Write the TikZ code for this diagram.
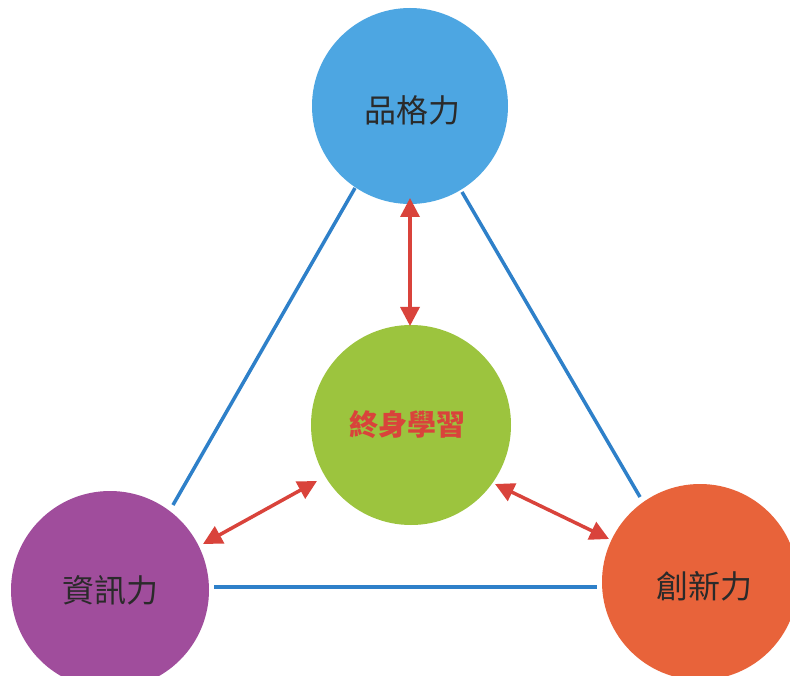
\documentclass[tikz,border=0pt]{standalone}
\usepackage{fontspec}
\newfontfamily\cjk{Noto Sans CJK TC}
\usetikzlibrary{arrows.meta}
\definecolor{cblue}{HTML}{4DA6E2}
\definecolor{cgreen}{HTML}{9CC43E}
\definecolor{cpurple}{HTML}{A04D9C}
\definecolor{corange}{HTML}{E8633A}
\definecolor{lblue}{HTML}{2E80C9}
\definecolor{ared}{HTML}{D9433B}
\definecolor{tgray}{HTML}{2A2A2A}
\tikzset{
  ball/.style={circle, minimum size=196pt, inner sep=0pt, draw=none},
  lbl/.style={font=\cjk\fontsize{32}{32}\selectfont, text=tgray},
  side/.style={draw=lblue, line width=3.5pt},
  link/.style={draw=ared, line width=3.5pt, {Triangle[length=19pt,width=19pt]}-{Triangle[length=19pt,width=19pt]}}
}
\begin{document}
\begin{tikzpicture}[x=1pt,y=-1pt]
\useasboundingbox (0,0) rectangle (790,676);
\fill[white] (0,0) rectangle (790,676);
\node[ball, fill=cblue] (top) at (410,106) {};
\node[ball, fill=cgreen, minimum size=200pt] (mid) at (411,425) {};
\node[ball, fill=cpurple, minimum size=198pt] (left) at (110,590) {};
\node[ball, fill=corange] (right) at (700,582) {};
\node[lbl] (toplbl) at (top.center) [xshift=2pt, yshift=-4pt] {品格力};
\node[lbl, text=ared, font=\cjk\bfseries\fontsize{29}{29}\selectfont] (midlbl) at (mid.center) [xshift=-4pt] {終身學習};
\node[lbl] (leftlbl) at (left.center) {資訊力};
\node[lbl] (rightlbl) at (right.center) [xshift=4pt, yshift=-4pt] {創新力};
\coordinate (l1) at (173,505); \coordinate (l2) at (355,188);
\coordinate (r1) at (462,192); \coordinate (r2) at (640,497);
\coordinate (b1) at (214,587); \coordinate (b2) at (597,587);
\draw[side] (l1) -- (l2);
\draw[side] (r1) -- (r2);
\draw[side] (b1) -- (b2);
\coordinate (v1) at (410,198); \coordinate (v2) at (410,326);
\coordinate (a1) at (203,544); \coordinate (a2) at (317,481);
\coordinate (c1) at (495,484); \coordinate (c2) at (609,539);
\draw[link] (v1) -- (v2);
\draw[link] (a1) -- (a2);
\draw[link] (c1) -- (c2);
\end{tikzpicture}
\end{document}
